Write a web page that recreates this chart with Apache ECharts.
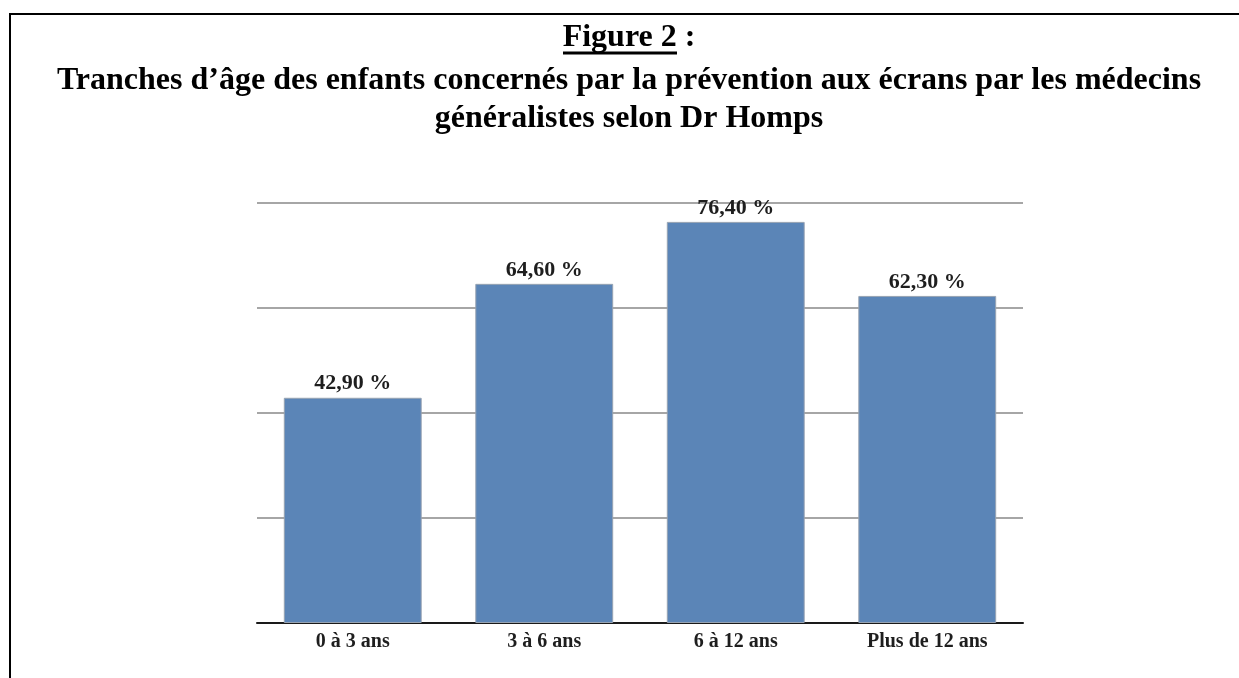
<!DOCTYPE html>
<html>
<head>
<meta charset="utf-8">
<script src="https://cdn.jsdelivr.net/npm/echarts@6/dist/echarts.min.js"></script>
<style>
  html, body { margin: 0; padding: 0; background: #fff; }
  #chart { width: 1239px; height: 678px; }
</style>
</head>
<body>
<div id="chart"></div>
<script>
// données
var categories = ['0 à 3 ans', '3 à 6 ans', '6 à 12 ans', 'Plus de 12 ans']
var values = [42.9, 64.6, 76.4, 62.3]
var yTicks = [0, 20, 40, 60, 80]

var serif = '"Liberation Serif", "Times New Roman", serif'

var chart = echarts.init(document.getElementById('chart'))
chart.setOption({
  backgroundColor: '#fff',
  animation: false,
  // cadre, titre et soulignement
  graphic: [
    {
      type: 'rect',
      shape: { x: 10, y: 14, width: 1260, height: 700 },
      style: { fill: 'none', stroke: '#000', lineWidth: 2 }
    },
    {
      type: 'text',
      x: 629,
      y: 38,
      style: {
        text: 'Figure 2 :',
        fill: '#000',
        font: 'bold 32px ' + serif,
        align: 'center',
        verticalAlign: 'middle'
      }
    },
    {
      type: 'line',
      shape: { x1: 563, y1: 53, x2: 677, y2: 53 },
      style: { stroke: '#000', lineWidth: 3 }
    },
    {
      type: 'text',
      x: 629,
      y: 62,
      style: {
        text: 'Tranches d’âge des enfants concernés par la prévention aux écrans par les médecins\ngénéralistes selon Dr Homps',
        fill: '#000',
        font: 'bold 32px ' + serif,
        lineHeight: 38,
        align: 'center',
        verticalAlign: 'top'
      }
    }
  ],
  grid: {
    left: 257,
    right: 216,
    top: 203,
    bottom: 55
  },
  xAxis: {
    type: 'category',
    data: categories,
    axisTick: { show: false },
    axisLine: { lineStyle: { color: '#1a1a1a', width: 2 } },
    axisLabel: {
      margin: 9,
      color: '#1e1e1e',
      fontFamily: serif,
      fontWeight: 'bold',
      fontSize: 20
    }
  },
  yAxis: {
    type: 'value',
    min: yTicks[0],
    max: yTicks[yTicks.length - 1],
    interval: yTicks[1] - yTicks[0],
    axisLabel: { show: false },
    axisLine: { show: false },
    axisTick: { show: false },
    splitLine: { lineStyle: { color: '#a6a6a6', width: 2 } }
  },
  series: [{
    type: 'bar',
    data: values,
    barWidth: '72%',
    itemStyle: {
      color: '#5b85b7',
      borderColor: '#97a3b2',
      borderWidth: 1
    },
    label: {
      show: true,
      position: 'top',
      distance: 3,
      color: '#1e1e1e',
      fontFamily: serif,
      fontWeight: 'bold',
      fontSize: 22,
      formatter: function (p) {
        return p.value.toFixed(2).replace('.', ',') + ' %'
      }
    }
  }]
})
</script>
</body>
</html>
